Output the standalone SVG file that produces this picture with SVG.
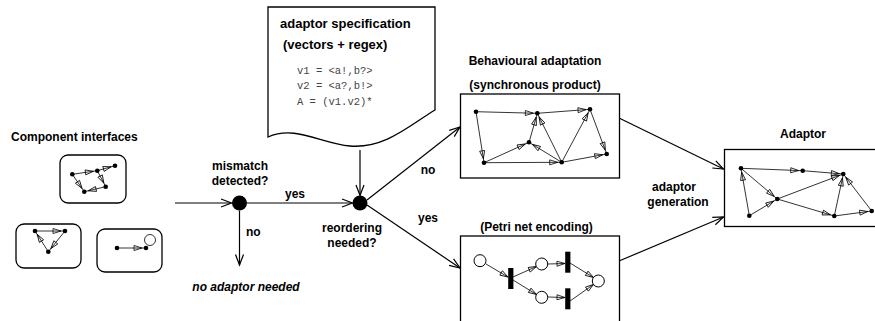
<svg xmlns="http://www.w3.org/2000/svg" width="875" height="321" viewBox="0 0 875 321">
<defs>
<marker id="flow" markerUnits="userSpaceOnUse" markerWidth="12" markerHeight="10" refX="11" refY="4.5" orient="auto" overflow="visible">
<path d="M0.5,0.5 L11,4.5 L0.5,8.5" fill="none" stroke="#000" stroke-width="1.2"/>
</marker>
<marker id="eg" markerUnits="userSpaceOnUse" markerWidth="9" markerHeight="6" refX="12" refY="2.5" orient="auto" overflow="visible">
<path d="M0,0 L8,2.5 L0,5 Z" fill="none" stroke="#000" stroke-width="0.8"/>
</marker>
<marker id="pe" markerUnits="userSpaceOnUse" markerWidth="9" markerHeight="6" refX="8" refY="2.5" orient="auto" overflow="visible">
<path d="M0,0 L8,2.5 L0,5 Z" fill="none" stroke="#000" stroke-width="0.8"/>
</marker>
</defs>
<style>
.t{font-family:"Liberation Sans",Arial,sans-serif;font-weight:bold;font-size:12px;fill:#000}
.ti{font-family:"Liberation Sans",Arial,sans-serif;font-weight:bold;font-style:italic;font-size:12px;fill:#000}
.m{font-family:"Liberation Mono","Courier New",monospace;font-size:10.5px;fill:#444}
.box{fill:#fff;stroke:#000;stroke-width:1.3}
.fl{fill:none;stroke:#000;stroke-width:1.2;marker-end:url(#flow)}
.e{fill:none;stroke:#000;stroke-width:0.8;marker-end:url(#eg)}
.pa{fill:none;stroke:#000;stroke-width:0.8;marker-end:url(#pe)}
.n{fill:#000}
.pl{fill:#fff;stroke:#000;stroke-width:1}
.tr{fill:#000}
</style>

<g id="connectors">
<line class="fl" x1="175" y1="203" x2="231.5" y2="203"/>
<line class="fl" x1="247" y1="203" x2="352.5" y2="203"/>
<line class="fl" x1="239.5" y1="210.5" x2="239.5" y2="265"/>
<line class="fl" x1="360" y1="150" x2="360" y2="195.5"/>
<line class="fl" x1="367" y1="200" x2="460" y2="127"/>
<line class="fl" x1="367" y1="205" x2="460" y2="268"/>
<line class="fl" x1="619" y1="118" x2="723.5" y2="169"/>
<line class="fl" x1="619" y1="261" x2="723.5" y2="217"/>
</g>

<g id="component-interfaces">
<text class="t" x="11" y="141">Component interfaces</text>
<g id="comp1">
<rect class="box" x="60" y="155" width="66" height="48" rx="8"/>
<line class="e" x1="72.3" y1="174.3" x2="97.3" y2="170.7"/>
<line class="e" x1="97.3" y1="170.7" x2="115" y2="165.7"/>
<line class="e" x1="72.3" y1="174.3" x2="84.3" y2="191.7"/>
<line class="e" x1="97.3" y1="170.7" x2="105.7" y2="186.7"/>
<line class="e" x1="105.7" y1="186.7" x2="84.3" y2="191.7"/>
<circle class="n" cx="72.3" cy="174.3" r="2.3"/>
<circle class="n" cx="97.3" cy="170.7" r="2.3"/>
<circle class="n" cx="115" cy="165.7" r="2.3"/>
<circle class="n" cx="84.3" cy="191.7" r="2.3"/>
<circle class="n" cx="105.7" cy="186.7" r="2.3"/>
</g>
<g id="comp2">
<rect class="box" x="16" y="224" width="65" height="44" rx="8"/>
<line class="e" x1="35" y1="231" x2="65" y2="231"/>
<line class="e" x1="65" y1="231" x2="48.3" y2="251.7"/>
<line class="e" x1="48.3" y1="251.7" x2="35" y2="231"/>
<circle class="n" cx="35" cy="231" r="2.3"/>
<circle class="n" cx="65" cy="231" r="2.3"/>
<circle class="n" cx="48.3" cy="251.7" r="2.3"/>
</g>
<g id="comp3">
<rect class="box" x="97" y="229" width="65" height="43" rx="8"/>
<line class="e" x1="117" y1="248" x2="146" y2="248"/>
<circle cx="150" cy="240" r="5.5" fill="none" stroke="#000" stroke-width="0.8"/>
<circle class="n" cx="117" cy="248" r="2.3"/>
<circle class="n" cx="146" cy="248" r="2.3"/>
</g>
</g>

<g id="mismatch">
<circle class="n" cx="239.5" cy="203" r="7.5"/>
<text class="t" x="240" y="170" text-anchor="middle">mismatch</text>
<text class="t" x="240" y="185" text-anchor="middle">detected?</text>
</g>
<text class="t" x="295" y="198" text-anchor="middle">yes</text>
<text class="t" x="246" y="236">no</text>
<text class="ti" x="246" y="291" text-anchor="middle">no adaptor needed</text>

<g id="spec">
<path class="box" d="M268,7 L435,7 L435,110 C 410,125 385,149 350,146 C 320,143 295,125 268,137 Z"/>
<text class="t" x="280" y="28" style="font-size:13px">adaptor specification</text>
<text class="t" x="283" y="49" style="font-size:13px">(vectors + regex)</text>
<text class="m" x="297" y="74" xml:space="preserve">v1 = &lt;a!,b?&gt;</text>
<text class="m" x="297" y="89" xml:space="preserve">v2 = &lt;a?,b!&gt;</text>
<text class="m" x="297" y="105" xml:space="preserve">A = (v1.v2)*</text>
</g>

<g id="reordering">
<circle class="n" cx="360" cy="203" r="7.5"/>
<text class="t" x="352" y="232" text-anchor="middle">reordering</text>
<text class="t" x="352" y="247" text-anchor="middle">needed?</text>
</g>
<text class="t" x="428" y="174" text-anchor="middle">no</text>
<text class="t" x="428" y="222" text-anchor="middle">yes</text>

<g id="behavioural">
<text class="t" x="535" y="64.5" text-anchor="middle">Behavioural adaptation</text>
<text class="t" x="535" y="89" text-anchor="middle">(synchronous product)</text>
<rect class="box" x="460.5" y="94" width="159" height="84"/>
<line class="e" x1="476" y1="111.7" x2="537.3" y2="113.3"/>
<line class="e" x1="537.3" y1="113.3" x2="590" y2="109.3"/>
<line class="e" x1="476" y1="111.7" x2="484" y2="162.7"/>
<line class="e" x1="484" y1="162.7" x2="529" y2="142.3"/>
<line class="e" x1="484" y1="162.7" x2="561.7" y2="162.3"/>
<line class="e" x1="529" y1="142.3" x2="537.3" y2="113.3"/>
<line class="e" x1="561.7" y1="162.3" x2="529" y2="142.3"/>
<line class="e" x1="561.7" y1="162.3" x2="537.3" y2="113.3"/>
<line class="e" x1="561.7" y1="162.3" x2="590" y2="109.3"/>
<line class="e" x1="590" y1="109.3" x2="606.7" y2="154"/>
<line class="e" x1="561.7" y1="162.3" x2="606.7" y2="154"/>
<circle class="n" cx="476" cy="111.7" r="2.3"/>
<circle class="n" cx="537.3" cy="113.3" r="2.3"/>
<circle class="n" cx="590" cy="109.3" r="2.3"/>
<circle class="n" cx="484" cy="162.7" r="2.3"/>
<circle class="n" cx="529" cy="142.3" r="2.3"/>
<circle class="n" cx="561.7" cy="162.3" r="2.3"/>
<circle class="n" cx="606.7" cy="154" r="2.3"/>
</g>

<g id="petri">
<text class="t" x="536.5" y="231" text-anchor="middle">(Petri net encoding)</text>
<rect class="box" x="460.5" y="236" width="159" height="100"/>
<line class="pa" x1="486" y1="264" x2="508" y2="277"/>
<line class="pa" x1="513" y1="277" x2="536.5" y2="266.5"/>
<line class="pa" x1="513" y1="280" x2="536.5" y2="294.5"/>
<line class="pa" x1="548" y1="264" x2="565" y2="263.5"/>
<line class="pa" x1="548" y1="297" x2="565" y2="297.5"/>
<line class="pa" x1="570" y1="263" x2="593.5" y2="277.5"/>
<line class="pa" x1="570" y1="301" x2="593.5" y2="284.5"/>
<circle class="pl" cx="480" cy="260.7" r="6"/>
<circle class="pl" cx="541.7" cy="264" r="6"/>
<circle class="pl" cx="541.7" cy="297.3" r="6"/>
<circle class="pl" cx="598.3" cy="281" r="6"/>
<rect class="tr" x="508.2" y="268" width="5.2" height="21"/>
<rect class="tr" x="565.2" y="251.7" width="5.2" height="21"/>
<rect class="tr" x="565.2" y="288.3" width="5.2" height="21"/>
</g>

<text class="t" x="674" y="191" text-anchor="middle">adaptor</text>
<text class="t" x="678" y="206" text-anchor="middle">generation</text>

<g id="adaptor">
<text class="t" x="803" y="138" text-anchor="middle">Adaptor</text>
<rect class="box" x="724.5" y="149.5" width="160" height="77"/>
<line class="e" x1="741" y1="168.3" x2="802.7" y2="170.7"/>
<line class="e" x1="802.7" y1="170.7" x2="843.3" y2="174"/>
<line class="e" x1="741" y1="168.3" x2="777.3" y2="199"/>
<line class="e" x1="749.3" y1="215.7" x2="741" y2="168.3"/>
<line class="e" x1="749.3" y1="215.7" x2="777.3" y2="199"/>
<line class="e" x1="777.3" y1="199" x2="843.3" y2="174"/>
<line class="e" x1="777.3" y1="199" x2="834.3" y2="216"/>
<line class="e" x1="834.3" y1="216" x2="843.3" y2="174"/>
<line class="e" x1="834.3" y1="216" x2="871.7" y2="211"/>
<line class="e" x1="871.7" y1="211" x2="843.3" y2="174"/>
<circle class="n" cx="741" cy="168.3" r="2.3"/>
<circle class="n" cx="802.7" cy="170.7" r="2.3"/>
<circle class="n" cx="843.3" cy="174" r="2.3"/>
<circle class="n" cx="777.3" cy="199" r="2.3"/>
<circle class="n" cx="749.3" cy="215.7" r="2.3"/>
<circle class="n" cx="834.3" cy="216" r="2.3"/>
<circle class="n" cx="871.7" cy="211" r="2.3"/>
</g>
</svg>
